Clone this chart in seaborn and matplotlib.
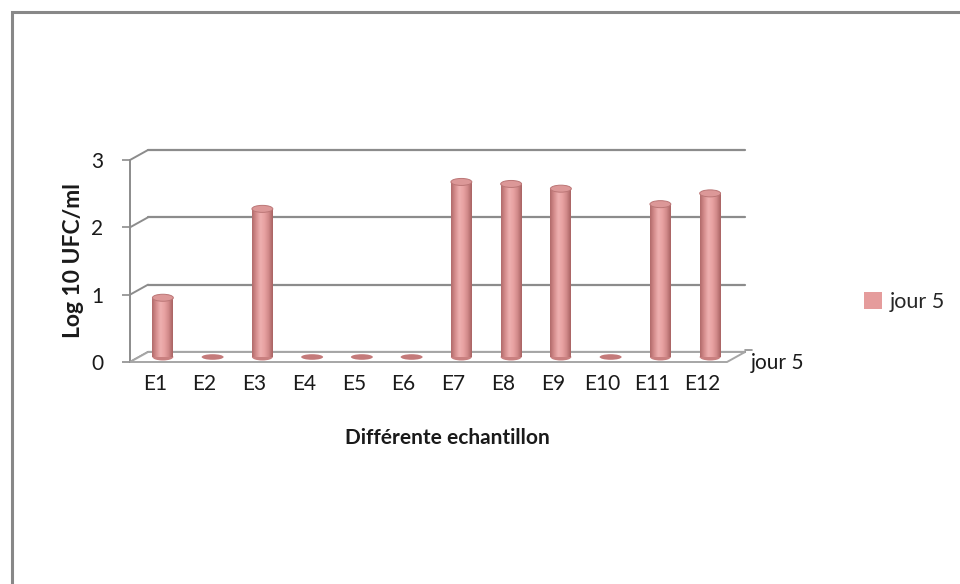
import numpy as np
import pandas as pd
import seaborn as sns
import matplotlib.pyplot as plt
from matplotlib.patches import Ellipse, Rectangle, Polygon, Patch
from matplotlib.transforms import ScaledTranslation
from matplotlib.colors import LinearSegmentedColormap

# Data
samples = ["E1", "E2", "E3", "E4", "E5", "E6", "E7", "E8", "E9", "E10", "E11", "E12"]
log_ufc = [0.88, 0.0, 2.2, 0.0, 0.0, 0.0, 2.6, 2.57, 2.5, 0.0, 2.27, 2.43]
series_name = "jour 5"
y_ticks = [0, 1, 2, 3]

sns.set_theme(style="white")
plt.rcParams["font.family"] = ["Lato", "DejaVu Sans"]

W, H = 960, 584
fig = plt.figure(figsize=(W / 100, H / 100), dpi=100)


def fx(px):
    return px / W


def fy(py):
    return 1 - py / H


grid_c = "#8c8c8c"
bar_c = "#e59c9c"
txt_c = "#1a1a1a"
fs = 15

ax = fig.add_axes([fx(130), fy(362), fx(727) - fx(130), fy(160) - fy(362)])
df = pd.DataFrame({"sample": samples, "value": log_ufc})
bar_w = 0.42
sns.barplot(data=df, x="sample", y="value", ax=ax, color=bar_c, width=bar_w,
            saturation=1, edgecolor="none", zorder=3)
ax.set_xlim(-0.5, 11.5)
ax.set_ylim(0, 3)

# depth offsets (back wall and bar plane) expressed in data units
px_x = (727 - 130) / 12.0
px_y = (362 - 160) / 3.0
dx, dy = 18 / px_x, 10 / px_y

# back wall gridlines, side wall diagonals, front axis line
for v in y_ticks:
    ax.plot([-0.5 + dx, 11.5 + dx], [v + dy, v + dy], color=grid_c, lw=1.6,
            clip_on=False, zorder=0)
    ax.plot([-0.5, -0.5 + dx], [v, v + dy], color=grid_c, lw=1.4,
            clip_on=False, zorder=0)
ax.plot([-0.5, -0.5], [0, 3], color=grid_c, lw=1.4, clip_on=False, zorder=1)

# floor
floor = Polygon([(-0.5, 0), (11.5, 0), (11.5 + dx, dy), (-0.5 + dx, dy)],
                closed=True, facecolor="white", edgecolor="#a6a6a6", lw=1.4,
                clip_on=False, zorder=1)
ax.add_patch(floor)
ax.plot([11.5 + dx, 11.5 + dx + 7 / px_x], [dy + 2 / px_y, dy + 2 / px_y],
        color=grid_c, lw=1.2, clip_on=False, zorder=1)
ax.text(11.5 + dx + 6 / px_x, -0.02, series_name, fontsize=fs,
        color=txt_c, va="center", ha="left", clip_on=False)

# cylinder shading for the bars
shift = ax.transData + ScaledTranslation(8 / 100, 5 / 100, fig.dpi_scale_trans)
cmap = LinearSegmentedColormap.from_list(
    "cyl", ["#b06a6a", "#d68e8e", "#eeb0b0", "#e8a2a2", "#d18a8a", "#a86262"])
grad = np.linspace(0, 1, 64).reshape(1, -1)
ell_h = 7 / px_y
for p in ax.patches[:len(samples)]:
    x0 = p.get_x()
    w = p.get_width()
    h = p.get_height()
    xc = x0 + w / 2
    p.set_transform(shift)
    p.set_clip_on(False)
    if h > 0:
        base = Ellipse((xc, 0), w, ell_h, facecolor="#c98080", edgecolor="none",
                       transform=shift, zorder=2.5, clip_on=False)
        ax.add_patch(base)
        im = ax.imshow(grad, extent=(x0, x0 + w, 0, h), aspect="auto", cmap=cmap,
                       zorder=3.5, interpolation="bicubic")
        im.set_transform(shift)
        im.set_clip_path(p)
        top = Ellipse((xc, h), w, ell_h, facecolor="#dc9898",
                      edgecolor="#bb7676", lw=0.7, transform=shift, zorder=4,
                      clip_on=False)
        ax.add_patch(top)
    else:
        flat = Ellipse((xc, 0), w * 1.05, ell_h * 0.8, facecolor="#c47a7a",
                       edgecolor="none", transform=shift, zorder=4, clip_on=False)
        ax.add_patch(flat)

ax.set_xlim(-0.5, 11.5)
ax.set_ylim(0, 3)

for s in ax.spines.values():
    s.set_visible(False)
ax.set_yticks(y_ticks)
ax.set_xticks(range(len(samples)))
ax.set_xticklabels(samples)
ax.tick_params(axis="x", length=0, pad=9, labelsize=fs, labelcolor=txt_c)
ax.tick_params(axis="y", left=True, length=6, width=1.2, color=grid_c, pad=13,
               labelsize=fs, labelcolor=txt_c)
ax.set_xlabel("")
ax.set_ylabel("")
ax.set_facecolor("none")

fig.text(fx(73), fy(261), "Log 10 UFC/ml", rotation=90, ha="center", va="center",
         fontsize=16.5, fontweight="bold", color=txt_c)
fig.text(fx(447), fy(438), "Différente echantillon", ha="center", va="center",
         fontsize=15, fontweight="bold", color=txt_c)

fig.legend(handles=[Patch(facecolor=bar_c, edgecolor="none")], labels=[series_name],
           loc="center left", bbox_to_anchor=(fx(845), fy(302)), frameon=False,
           handlelength=0.8, handleheight=0.8, handletextpad=0.4, fontsize=15.5)

# chart area frame
fig.add_artist(Rectangle((fx(12), -0.05), 1.2, fy(12) + 0.05, transform=fig.transFigure,
                         facecolor="none", edgecolor="#888888", lw=2.2))

fig.savefig("out.png", dpi=100)
